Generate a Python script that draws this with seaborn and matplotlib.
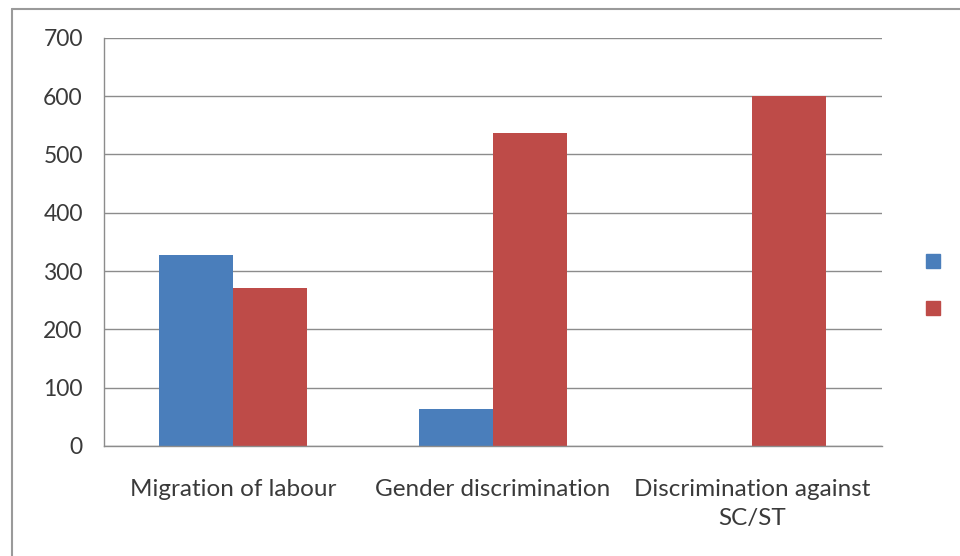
import pandas as pd
import matplotlib
matplotlib.use('Agg')
import matplotlib.pyplot as plt
from matplotlib.lines import Line2D
import seaborn as sns

# Values
categories = ['Migration of labour', 'Gender discrimination', 'Discrimination against\nSC/ST']
series_names = ['Series 1', 'Series 2']
series1 = [328, 63, 0]
series2 = [271, 537, 600]
colors = ['#4A7EBB', '#BE4B48']

df = pd.DataFrame({
    'Category': categories * 2,
    'Series': [series_names[0]] * 3 + [series_names[1]] * 3,
    'Value': series1 + series2,
})

sns.set_style('white')
plt.rcParams['font.family'] = ['Lato', 'DejaVu Sans']

fig = plt.figure(figsize=(9.6, 5.56), dpi=100)
ax = fig.add_axes([0.108, 0.198, 0.811, 0.734])

sns.barplot(data=df, x='Category', y='Value', hue='Series', palette=colors,
            width=0.57, saturation=1, linewidth=0, ax=ax, legend=False)

ax.set_ylim(0, 700)
ax.set_yticks(range(0, 701, 100))
ax.set_xlim(-0.5, 2.5)
ax.set_xlabel('')
ax.set_ylabel('')

# grid and spines in Excel style
ax.grid(axis='y', color='#8C8C8C', linewidth=1)
ax.set_axisbelow(True)
for side in ['top', 'right']:
    ax.spines[side].set_visible(False)
for side in ['left', 'bottom']:
    ax.spines[side].set_color('#8C8C8C')
    ax.spines[side].set_linewidth(1)

ax.tick_params(axis='y', length=5, color='#8C8C8C', labelsize=16.5, labelcolor='#3A3A3A', pad=10)
ax.set_xticks(range(len(categories)))
ax.set_xticklabels(categories, linespacing=1.45)
ax.tick_params(axis='x', which='major', length=0, labelsize=17.5, labelcolor='#3A3A3A', pad=24)
ax.set_xticks([-0.5, 0.5, 1.5, 2.5], minor=True)
ax.tick_params(axis='x', which='minor', length=5, color='#8C8C8C')

# legend: only colour squares, no text
handles = [Line2D([], [], marker='s', linestyle='', markersize=10,
                  markerfacecolor=c, markeredgecolor=c) for c in colors]
fig.legend(handles, ['', ''], loc='center', bbox_to_anchor=(0.972, 0.487),
           frameon=False, handlelength=1, handletextpad=0, labelspacing=2.5)

# chart frame lines (left and top)
fig.add_artist(Line2D([0.0125, 0.0125], [0, 0.984], transform=fig.transFigure, color='#9A9A9A', linewidth=1.5))
fig.add_artist(Line2D([0.0125, 1.0], [0.984, 0.984], transform=fig.transFigure, color='#9A9A9A', linewidth=1.5))

fig.savefig('out.png', dpi=100)
